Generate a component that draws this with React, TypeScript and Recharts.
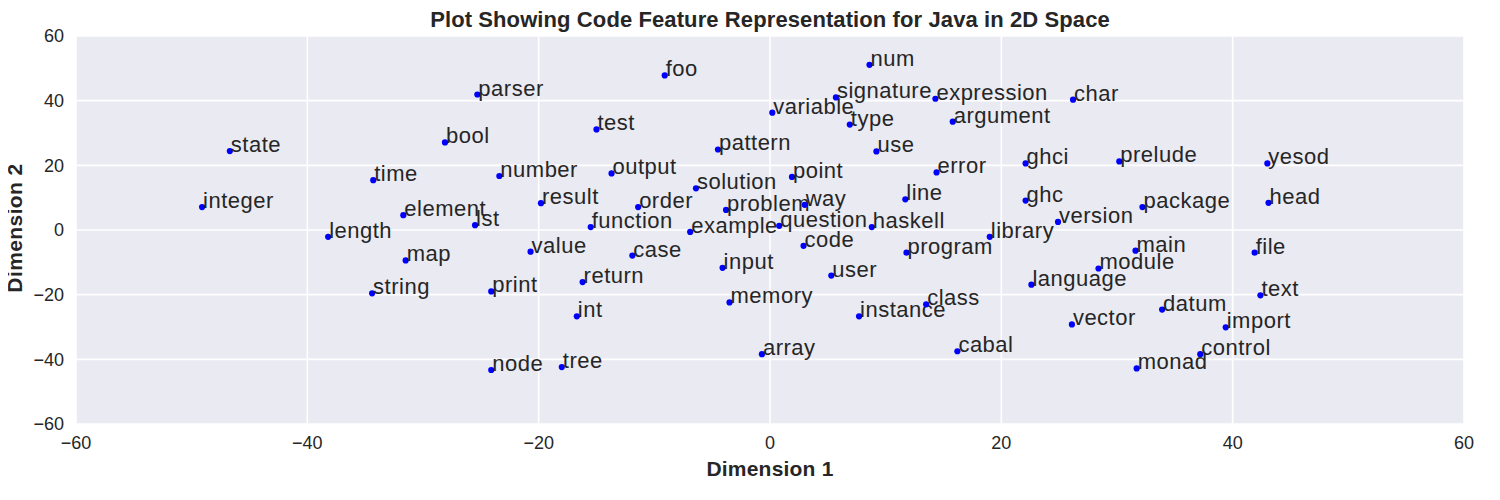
import { ScatterChart, Scatter, XAxis, YAxis, CartesianGrid } from "recharts";

const WORDS = [
  "state", "integer", "bool", "parser", "time", "element", "lst", "length", "map", "string",
  "number", "result", "output", "test", "foo", "order", "function", "value", "case", "return",
  "print", "int", "node", "tree", "pattern", "solution", "example", "problem", "input", "memory",
  "array", "variable", "signature", "num", "type", "use", "point", "way", "question", "code",
  "haskell", "user", "instance", "class", "expression", "argument", "error", "line", "program", "cabal",
  "char", "ghci", "ghc", "prelude", "yesod", "version", "package", "head", "library", "main",
  "module", "language", "file", "text", "datum", "vector", "import", "control", "monad",
];

const DIM1 = [
  -46.7, -49.1, -28.1, -25.3, -34.3, -31.7, -25.5, -38.2, -31.5, -34.4,
  -23.4, -19.8, -13.7, -15.0, -9.1, -11.4, -15.5, -20.7, -11.9, -16.2,
  -24.1, -16.7, -24.1, -18.0, -4.5, -6.4, -6.9, -3.8, -4.1, -3.5,
  -0.7, 0.2, 5.7, 8.6, 6.9, 9.2, 1.9, 3.0, 0.8, 2.9,
  8.8, 5.3, 7.7, 13.5, 14.3, 15.8, 14.4, 11.7, 11.8, 16.2,
  26.2, 22.1, 22.1, 30.2, 43.0, 24.9, 32.2, 43.1, 19.0, 31.6,
  28.4, 22.6, 41.9, 42.4, 33.9, 26.1, 39.4, 37.2, 31.7,
];

const DIM2 = [
  24.4, 7.1, 27.1, 41.9, 15.4, 4.6, 1.5, -2.1, -9.4, -19.6,
  16.7, 8.3, 17.5, 31.1, 47.8, 7.1, 0.9, -6.7, -7.9, -16.1,
  -19.0, -26.7, -43.3, -42.4, 24.9, 12.9, -0.6, 6.2, -11.7, -22.4,
  -38.4, 36.3, 41.0, 51.1, 32.6, 24.3, 16.4, 7.8, 1.3, -4.9,
  0.9, -14.1, -26.7, -23.0, 40.6, 33.5, 17.8, 9.5, -7.0, -37.5,
  40.3, 20.6, 9.1, 21.2, 20.6, 2.5, 7.1, 8.4, -2.1, -6.4,
  -11.9, -16.9, -7.0, -20.2, -24.6, -29.2, -30.1, -38.4, -42.8,
];

const TICKS = [-60, -40, -20, 0, 20, 40, 60];

const data = WORDS.map((word, i) => ({ word, x: DIM1[i], y: DIM2[i] }));

const FONT = '"Liberation Sans", Arial, sans-serif';
const INK = "#262626";

const fmt = (v: number) => (v < 0 ? `\u2212${Math.abs(v)}` : `${v}`);

function WordDot(props: any) {
  const { cx, cy, payload } = props;
  return (
    <g>
      <circle cx={cx} cy={cy} r={3.1} fill="#0000ff" />
      <text x={cx + 1} y={cy + 1} fontSize={22} letterSpacing={0.5} fill={INK} fontFamily={FONT}>
        {payload.word}
      </text>
    </g>
  );
}

export default function App() {
  return (
    <div style={{ position: "relative", width: 1484, height: 484, fontFamily: FONT }}>
      <ScatterChart
        width={1484}
        height={484}
        margin={{ top: 28, right: 28, bottom: 28, left: 8 }}
      >
        <CartesianGrid fill="#eaeaf2" fillOpacity={1} stroke="#ffffff" strokeWidth={1.6} />
        <XAxis
          type="number"
          dataKey="x"
          domain={[-60, 60]}
          ticks={TICKS}
          tickFormatter={fmt}
          axisLine={false}
          tickLine={false}
          tickSize={0}
          tickMargin={12}
          height={40}
          tick={{ fill: INK, fontSize: 18, fontFamily: FONT }}
        />
        <YAxis
          type="number"
          dataKey="y"
          domain={[-60, 60]}
          ticks={TICKS}
          tickFormatter={fmt}
          axisLine={false}
          tickLine={false}
          tickSize={0}
          tickMargin={12}
          width={60}
          tick={{ fill: INK, fontSize: 18, fontFamily: FONT }}
        />
        <Scatter data={data} shape={WordDot} isAnimationActive={false} />
      </ScatterChart>
      {/* overlay in page coordinates (offset by the body margin) */}
      <svg
        width={1500}
        height={500}
        style={{ position: "absolute", left: -8, top: -8, pointerEvents: "none" }}
      >
        <text x={770} y={27} textAnchor="middle" fontSize={22} letterSpacing={0.1} fontWeight="bold" fill={INK} fontFamily={FONT}>
          Plot Showing Code Feature Representation for Java in 2D Space
        </text>
        <text x={770} y={476} textAnchor="middle" fontSize={21} letterSpacing={0.2} fontWeight="bold" fill={INK} fontFamily={FONT}>
          Dimension 1
        </text>
        <text
          transform="translate(22,228) rotate(-90)"
          textAnchor="middle"
          fontSize={21}
          letterSpacing={0.4}
          fontWeight="bold"
          fill={INK}
          fontFamily={FONT}
        >
          Dimension 2
        </text>
      </svg>
    </div>
  );
}
